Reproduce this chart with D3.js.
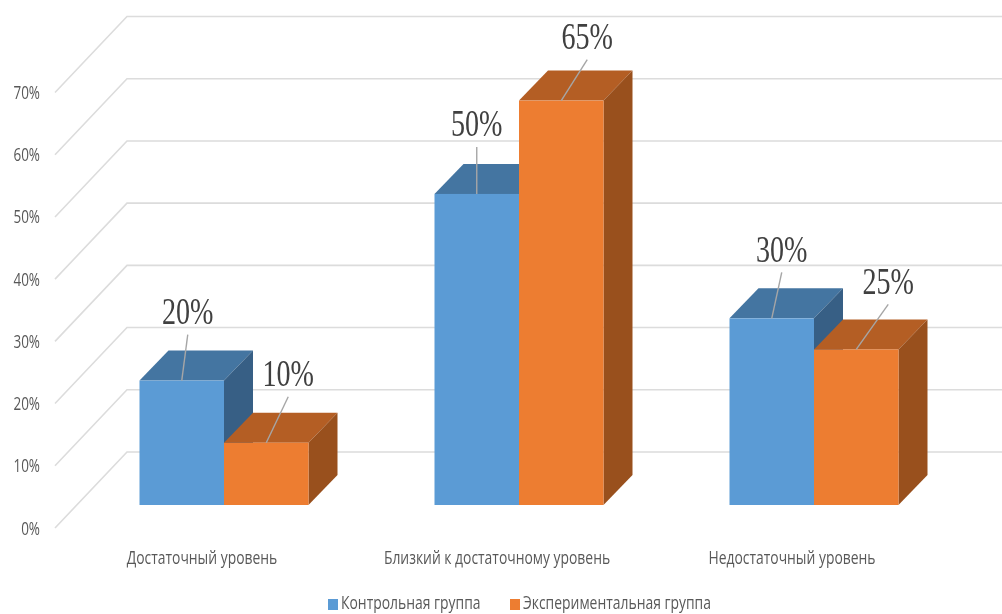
<!DOCTYPE html>
<html>
<head>
<meta charset="utf-8">
<script src="https://d3js.org/d3.v7.min.js"></script>
<style>
    html, body { margin: 0; padding: 0; background: #fff; overflow: hidden; }
    svg { display: block; }
</style>
</head>
<body>
<svg id="chart" width="1002" height="614"></svg>
<script>
const categories = ["Достаточный уровень", "Близкий к достаточному уровень", "Недостаточный уровень"];
const seriesNames = ["Контрольная группа", "Экспериментальная группа"];
const control = [20, 50, 30];
const experimental = [10, 65, 25];
const yTicks = [0, 10, 20, 30, 40, 50, 60, 70];

// three faces per series: front, top, side
const blueFaces = ["#5b9bd5", "#4475a1", "#375f85"];
const orangeFaces = ["#ed7d31", "#b45e24", "#99501d"];

// label leader lines: offset of the far end from the top of the bar front
const leaderOffsets = [[[6, -46], [22, -46]], [[0, -47], [26, -41]], [[10, -46], [32, -45]]];

const svg = d3.select("#chart");

const defs = svg.append("defs");
defs.append("filter").attr("id", "soft")
    .append("feGaussianBlur").attr("stdDeviation", 0.4);

const y = d3.scaleLinear().domain([0, 70]).range([505, 69.5]);
const x = d3.scaleBand().domain(categories).range([76.5, 961.5]);
const barW = 84.5;

// depth of the bars, and depth of the floor
const depth = { x: 29, y: -30 };
const wall = { x: 72, y: -76 };
const wallFront = 55, wallRight = 1002;
const frontY = v => y(v) + 23;

const grid = svg.append("g").attr("fill", "none").attr("stroke", "#dcdcdc").attr("stroke-width", 1.6);
yTicks.forEach(t => {
    grid.append("path").attr("d", d3.line()([
        [wallFront, frontY(t)],
        [wallFront + wall.x, frontY(t) + wall.y],
        [wallRight, frontY(t) + wall.y]
    ]));
});

svg.append("g").selectAll("text")
    .data(yTicks)
    .enter()
    .append("text")
    .attr("transform", d => `translate(40,${frontY(d) + 6.5}) scale(0.71,1)`)
    .attr("text-anchor", "end")
    .attr("font-family", "Open Sans")
    .attr("font-size", 19)
    .attr("fill", "#595959")
    .attr("filter", "url(#soft)")
    .text(d => d + "%");

function drawBar(cat, value, x0, faces) {
    const x1 = x0 + barW, top = y(value), bottom = y(0);
    const g = svg.append("g");
    g.append("polygon").attr("fill", faces[1]).attr("points", [
        [x0, top], [x1, top], [x1 + depth.x, top + depth.y], [x0 + depth.x, top + depth.y]
    ].join(" "));
    g.append("polygon").attr("fill", faces[2]).attr("points", [
        [x1, top], [x1 + depth.x, top + depth.y], [x1 + depth.x, bottom + depth.y], [x1, bottom]
    ].join(" "));
    g.append("rect").attr("x", x0).attr("y", top).attr("width", barW).attr("height", bottom - top).attr("fill", faces[0]);
}

categories.forEach((c, i) => {
    const mid = x(c) + x.bandwidth() / 2;
    drawBar(c, control[i], mid - barW, blueFaces);
    drawBar(c, experimental[i], mid, orangeFaces);
});

// leader lines and data labels
categories.forEach((c, i) => {
    const mid = x(c) + x.bandwidth() / 2;
    [control[i], experimental[i]].forEach((v, s) => {
        const cx = mid - barW + s * barW + barW / 2;
        const off = leaderOffsets[i][s];
        svg.append("line")
            .attr("x1", cx).attr("y1", y(v))
            .attr("x2", cx + off[0]).attr("y2", y(v) + off[1])
            .attr("stroke", "#a6a6a6").attr("stroke-width", 1.4);
        svg.append("text")
            .attr("transform", `translate(${cx + off[0]},${y(v) + off[1] - 10.5}) scale(0.74,1)`)
            .attr("text-anchor", "middle")
            .attr("font-family", "'Liberation Serif', serif")
            .attr("font-size", 38)
            .attr("fill", "#404040")
            .attr("filter", "url(#soft)")
            .text(v + "%");
    });
});

// category labels
svg.append("g").selectAll("text")
    .data(categories)
    .enter()
    .append("text")
    .attr("transform", d => `translate(${x(d) + x.bandwidth() / 2 - 22},563.5) scale(0.732,1)`)
    .attr("text-anchor", "middle")
    .attr("font-family", "Open Sans")
    .attr("font-size", 19)
    .attr("fill", "#595959")
    .attr("filter", "url(#soft)")
    .text(d => d);

// legend
const legendX = [328, 510];
seriesNames.forEach((name, i) => {
    svg.append("rect")
        .attr("x", legendX[i]).attr("y", 599).attr("width", 10).attr("height", 11)
        .attr("fill", [blueFaces[0], orangeFaces[0]][i]);
    svg.append("text")
        .attr("transform", `translate(${legendX[i] + 13},608.5) scale(0.773,1)`)
        .attr("font-family", "Open Sans")
        .attr("font-size", 18)
        .attr("fill", "#595959")
        .attr("filter", "url(#soft)")
        .text(name);
});
</script>
</body>
</html>
